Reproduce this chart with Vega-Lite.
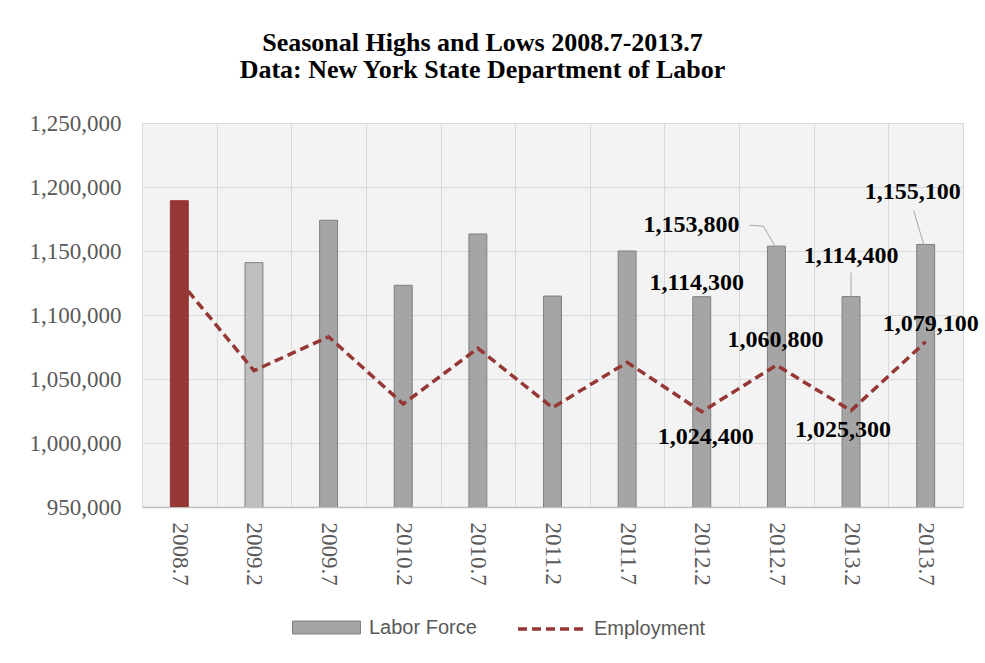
{
  "$schema": "https://vega.github.io/schema/vega-lite/v6.json",
  "width": 821,
  "height": 384,
  "autosize": {"type": "none"},
  "padding": {"left": 142, "top": 123, "right": 22, "bottom": 156},
  "background": "white",
  "config": {
    "view": {"fill": "#f3f3f3", "stroke": "#d9d9d9", "strokeWidth": 1},
    "font": "Liberation Serif"
  },
  "title": {
    "text": ["Seasonal Highs and Lows 2008.7-2013.7", "Data: New York State Department of Labor"],
    "font": "Liberation Serif",
    "fontSize": 26,
    "fontWeight": "bold",
    "color": "#000000",
    "anchor": "middle",
    "frame": "group",
    "dx": -70,
    "offset": 29,
    "lineHeight": 27
  },
  "data": {
    "values": [
      {"period": "2008.7", "labor": 1189300, "employment": 1127000},
      {"period": "2009.2", "labor": 1140900, "employment": 1056500},
      {"period": "2009.7", "labor": 1174000, "employment": 1083000},
      {"period": "2010.2", "labor": 1123200, "employment": 1030500},
      {"period": "2010.7", "labor": 1163300, "employment": 1074000},
      {"period": "2011.2", "labor": 1114800, "employment": 1027600},
      {"period": "2011.7", "labor": 1150000, "employment": 1063000},
      {"period": "2012.2", "labor": 1114300, "employment": 1024400},
      {"period": "2012.7", "labor": 1153800, "employment": 1060800},
      {"period": "2013.2", "labor": 1114400, "employment": 1025300},
      {"period": "2013.7", "labor": 1155100, "employment": 1079100}
    ]
  },
  "encoding": {
    "x": {
      "field": "period",
      "type": "ordinal",
      "sort": null,
      "scale": {"paddingInner": 0, "paddingOuter": 0},
      "axis": {
        "title": null,
        "labelAngle": 90,
        "labelFont": "Liberation Serif",
        "labelFontSize": 23,
        "labelColor": "#595959",
        "labelPadding": 15,
        "ticks": false,
        "tickBand": "extent",
        "grid": true,
        "gridColor": "#d9d9d9",
        "gridWidth": 1,
        "domainColor": "#bfbfbf",
        "domainWidth": 1.5
      }
    }
  },
  "layer": [
    {
      "mark": {"type": "bar", "width": {"band": 0.24}, "strokeWidth": 1, "clip": true},
      "encoding": {
        "y": {
          "field": "labor",
          "type": "quantitative",
          "scale": {"domain": [950000, 1250000], "nice": false, "zero": false},
          "axis": {
            "title": null,
            "values": [950000, 1000000, 1050000, 1100000, 1150000, 1200000, 1250000],
            "format": ",.0f",
            "labelFont": "Liberation Serif",
            "labelFontSize": 23,
            "labelColor": "#595959",
            "labelPadding": 21,
            "ticks": false,
            "domain": false,
            "grid": true,
            "gridColor": "#d9d9d9",
            "gridWidth": 1
          }
        },
        "fill": {
          "datum": "Labor Force",
          "type": "nominal",
          "scale": {"domain": ["Labor Force"], "range": ["#a5a5a5"]},
          "condition": [
            {"test": "datum.period === '2008.7'", "value": "#953735"},
            {"test": "datum.period === '2009.2'", "value": "#bfbfbf"}
          ],
          "legend": {
            "orient": "none",
            "legendX": 150,
            "legendY": 470,
            "title": null,
            "padding": 0,
            "labelFont": "Liberation Sans",
            "labelFontSize": 20,
            "labelColor": "#595959",
            "labelOffset": 8,
            "symbolSize": 4624,
            "symbolType": "M-1,-0.19H1V0.19H-1Z",
            "symbolStrokeColor": "#7f7f7f",
            "symbolStrokeWidth": 1,
            "symbolOpacity": 1
          }
        },
        "stroke": {
          "condition": {"test": "datum.period === '2008.7'", "value": "#953735"},
          "value": "#7f7f7f"
        }
      }
    },
    {
      "mark": {"type": "line", "strokeWidth": 3.5, "color": "#953735"},
      "encoding": {
        "y": {"field": "employment", "type": "quantitative"},
        "strokeDash": {
          "datum": "Employment",
          "type": "nominal",
          "scale": {"domain": ["Employment"], "range": [[9, 5]]},
          "legend": {
            "orient": "none",
            "legendX": 374,
            "legendY": 470,
            "title": null,
            "padding": 0,
            "labelFont": "Liberation Sans",
            "labelFontSize": 20,
            "labelColor": "#595959",
            "labelOffset": 6,
            "symbolSize": 4624,
            "symbolType": "stroke",
            "symbolStrokeColor": "#953735",
            "symbolStrokeWidth": 3.5,
            "symbolOpacity": 1
          }
        }
      }
    },
    {
      "transform": [{"filter": "datum.period === '2013.2'"}],
      "mark": {"type": "rule", "color": "#a6a6a6", "strokeWidth": 1, "y2Offset": -24},
      "encoding": {
        "y": {"field": "labor", "type": "quantitative"},
        "y2": {"field": "labor"}
      }
    },
    {
      "transform": [{"filter": "datum.period === '2013.7'"}],
      "mark": {"type": "rule", "color": "#a6a6a6", "strokeWidth": 1, "xOffset": -2, "x2Offset": -12, "y2Offset": -34},
      "encoding": {
        "x2": {"field": "period"},
        "y": {"field": "labor", "type": "quantitative"},
        "y2": {"field": "labor"}
      }
    },
    {
      "transform": [{"filter": "datum.period === '2012.7'"}],
      "mark": {"type": "rule", "color": "#a6a6a6", "strokeWidth": 1, "xOffset": -2, "yOffset": -1, "x2Offset": -13, "y2Offset": -20},
      "encoding": {
        "x2": {"field": "period"},
        "y": {"field": "labor", "type": "quantitative"},
        "y2": {"field": "labor"}
      }
    },
    {
      "transform": [{"filter": "datum.period === '2012.7'"}],
      "mark": {"type": "rule", "color": "#a6a6a6", "strokeWidth": 1, "xOffset": -13, "yOffset": -20, "x2Offset": -27, "y2Offset": -21},
      "encoding": {
        "x2": {"field": "period"},
        "y": {"field": "labor", "type": "quantitative"},
        "y2": {"field": "labor"}
      }
    },
    {
      "transform": [{"filter": "datum.period === '2012.2'"}],
      "mark": {"type": "text", "font": "Liberation Serif", "fontSize": 24, "fontWeight": "bold", "color": "#000000", "baseline": "middle", "dx": -5, "dy": -14},
      "encoding": {
        "y": {"field": "labor", "type": "quantitative"},
        "text": {"field": "labor", "type": "quantitative", "format": ",.0f"}
      }
    },
    {
      "transform": [{"filter": "datum.period === '2012.7'"}],
      "mark": {"type": "text", "font": "Liberation Serif", "fontSize": 24, "fontWeight": "bold", "color": "#000000", "baseline": "middle", "dx": -85, "dy": -21},
      "encoding": {
        "y": {"field": "labor", "type": "quantitative"},
        "text": {"field": "labor", "type": "quantitative", "format": ",.0f"}
      }
    },
    {
      "transform": [{"filter": "datum.period === '2013.2'"}],
      "mark": {"type": "text", "font": "Liberation Serif", "fontSize": 24, "fontWeight": "bold", "color": "#000000", "baseline": "middle", "dx": 0, "dy": -41},
      "encoding": {
        "y": {"field": "labor", "type": "quantitative"},
        "text": {"field": "labor", "type": "quantitative", "format": ",.0f"}
      }
    },
    {
      "transform": [{"filter": "datum.period === '2013.7'"}],
      "mark": {"type": "text", "font": "Liberation Serif", "fontSize": 24, "fontWeight": "bold", "color": "#000000", "baseline": "middle", "dx": -13, "dy": -52},
      "encoding": {
        "y": {"field": "labor", "type": "quantitative"},
        "text": {"field": "labor", "type": "quantitative", "format": ",.0f"}
      }
    },
    {
      "transform": [{"filter": "datum.period === '2012.2'"}],
      "mark": {"type": "text", "font": "Liberation Serif", "fontSize": 24, "fontWeight": "bold", "color": "#000000", "baseline": "middle", "dx": 4, "dy": 25},
      "encoding": {
        "y": {"field": "employment", "type": "quantitative"},
        "text": {"field": "employment", "type": "quantitative", "format": ",.0f"}
      }
    },
    {
      "transform": [{"filter": "datum.period === '2012.7'"}],
      "mark": {"type": "text", "font": "Liberation Serif", "fontSize": 24, "fontWeight": "bold", "color": "#000000", "baseline": "middle", "dx": -1, "dy": -25},
      "encoding": {
        "y": {"field": "employment", "type": "quantitative"},
        "text": {"field": "employment", "type": "quantitative", "format": ",.0f"}
      }
    },
    {
      "transform": [{"filter": "datum.period === '2013.2'"}],
      "mark": {"type": "text", "font": "Liberation Serif", "fontSize": 24, "fontWeight": "bold", "color": "#000000", "baseline": "middle", "dx": -8, "dy": 19},
      "encoding": {
        "y": {"field": "employment", "type": "quantitative"},
        "text": {"field": "employment", "type": "quantitative", "format": ",.0f"}
      }
    },
    {
      "transform": [{"filter": "datum.period === '2013.7'"}],
      "mark": {"type": "text", "font": "Liberation Serif", "fontSize": 24, "fontWeight": "bold", "color": "#000000", "baseline": "middle", "dx": 5, "dy": -18},
      "encoding": {
        "y": {"field": "employment", "type": "quantitative"},
        "text": {"field": "employment", "type": "quantitative", "format": ",.0f"}
      }
    }
  ]
}
